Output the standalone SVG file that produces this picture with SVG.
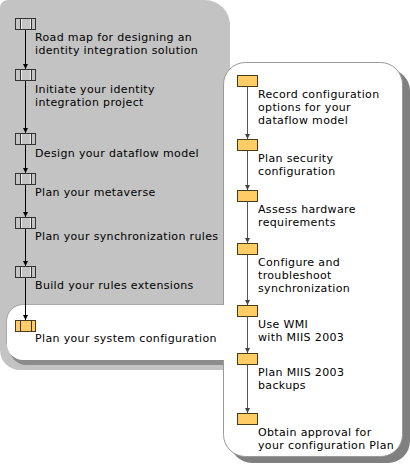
<svg xmlns="http://www.w3.org/2000/svg" width="410" height="465" viewBox="0 0 410 465">
<style>
text{font-family:"DejaVu Sans","Liberation Sans",sans-serif;font-size:11px;letter-spacing:0.35px;fill:#000}
.gn{fill:#c4c4c4;stroke:#333;stroke-width:1}
.yn{fill:#ffcc66;stroke:#4a3a1a;stroke-width:1}
.il{stroke:#333;stroke-width:1}
.hl{stroke:#eee;stroke-width:1}
.cl{stroke:#000;stroke-width:1;fill:none}
.cr{stroke:#555;stroke-width:1;fill:none}
</style>
<defs>
<marker id="ah" markerUnits="userSpaceOnUse" markerWidth="6" markerHeight="6" refX="5" refY="3" orient="auto"><path d="M0,0.5 L5,3 L0,5.5 Z" fill="#000"/></marker>
<marker id="ahr" markerUnits="userSpaceOnUse" markerWidth="6" markerHeight="6" refX="5" refY="3" orient="auto"><path d="M0,0.5 L5,3 L0,5.5 Z" fill="#444"/></marker>
</defs>
<g id="background">
<path d="M8,0 H205 A25,25 0 0 1 230,25 V362 A8,8 0 0 1 222,370 H20 A20,20 0 0 1 0,350 V8 A8,8 0 0 1 8,0 Z" fill="#c3c3c3"/>
<rect x="230" y="69" width="180" height="394" rx="22" fill="#808080"/>
<rect x="223.5" y="62.5" width="179" height="394" rx="22" fill="#fff" stroke="#999"/>
<path d="M26,310 H223 V365 H26 A16,16 0 0 1 10,349 V326 A16,16 0 0 1 26,310 Z" fill="#8c8c8c"/>
<path d="M23,305 H225 V360 H23 A16,16 0 0 1 7,344 V321 A16,16 0 0 1 23,305 Z" fill="#fff"/>
<path d="M223,304.5 H23 A16.5,16.5 0 0 0 6.5,321 V344" fill="none" stroke="#a8a8a8"/>
</g>
<g id="connectors">
<path class="cl" d="M25.5,30 V69" marker-end="url(#ah)"/>
<path class="cl" d="M25.5,81 V133" marker-end="url(#ah)"/>
<path class="cl" d="M25.5,145 V173" marker-end="url(#ah)"/>
<path class="cl" d="M25.5,185 V217" marker-end="url(#ah)"/>
<path class="cl" d="M25.5,229 V266" marker-end="url(#ah)"/>
<path class="cl" d="M25.5,278 V320" marker-end="url(#ah)"/>
<path class="cr" d="M247.5,87 V139" marker-end="url(#ahr)"/>
<path class="cr" d="M247.5,151 V190" marker-end="url(#ahr)"/>
<path class="cr" d="M247.5,202 V243" marker-end="url(#ahr)"/>
<path class="cr" d="M247.5,255 V305" marker-end="url(#ahr)"/>
<path class="cr" d="M247.5,317 V353" marker-end="url(#ahr)"/>
<path class="cr" d="M247.5,365 V413" marker-end="url(#ahr)"/>
</g>
<g id="n1"><rect class="gn" x="15.5" y="18.5" width="20" height="11"/><path class="il" d="M20.5,19 V29 M31.5,19 V29"/><path class="hl" d="M21.5,19 V29 M30.5,19 V29"/>
<text x="35" y="41">Road map for designing an</text><text x="35" y="54">identity integration solution</text></g>
<g id="n2"><rect class="gn" x="15.5" y="69.5" width="20" height="11"/><path class="il" d="M20.5,70 V80 M31.5,70 V80"/><path class="hl" d="M21.5,70 V80 M30.5,70 V80"/>
<text x="35" y="93">Initiate your identity</text><text x="35" y="106">integration project</text></g>
<g id="n3"><rect class="gn" x="15.5" y="133.5" width="20" height="11"/><path class="il" d="M20.5,134 V144 M31.5,134 V144"/><path class="hl" d="M21.5,134 V144 M30.5,134 V144"/>
<text x="35" y="157">Design your dataflow model</text></g>
<g id="n4"><rect class="gn" x="15.5" y="173.5" width="20" height="11"/><path class="il" d="M20.5,174 V184 M31.5,174 V184"/><path class="hl" d="M21.5,174 V184 M30.5,174 V184"/>
<text x="35" y="196">Plan your metaverse</text></g>
<g id="n5"><rect class="gn" x="15.5" y="217.5" width="20" height="11"/><path class="il" d="M20.5,218 V228 M31.5,218 V228"/><path class="hl" d="M21.5,218 V228 M30.5,218 V228"/>
<text x="35" y="240">Plan your synchronization rules</text></g>
<g id="n6"><rect class="gn" x="15.5" y="266.5" width="20" height="11"/><path class="il" d="M20.5,267 V277 M31.5,267 V277"/><path class="hl" d="M21.5,267 V277 M30.5,267 V277"/>
<text x="35" y="289">Build your rules extensions</text></g>
<g id="n7"><rect class="yn" x="15.5" y="320.5" width="20" height="11"/><path class="il" d="M20.5,321 V331 M31.5,321 V331"/>
<text x="35" y="342">Plan your system configuration</text></g>
<g id="r1"><rect class="yn" x="237.5" y="75.5" width="20" height="11"/>
<text x="258" y="98">Record configuration</text><text x="258" y="111">options for your</text><text x="258" y="124">dataflow model</text></g>
<g id="r2"><rect class="yn" x="237.5" y="139.5" width="20" height="11"/>
<text x="258" y="162">Plan security</text><text x="258" y="175">configuration</text></g>
<g id="r3"><rect class="yn" x="237.5" y="190.5" width="20" height="11"/>
<text x="258" y="213">Assess hardware</text><text x="258" y="226">requirements</text></g>
<g id="r4"><rect class="yn" x="237.5" y="243.5" width="20" height="11"/>
<text x="258" y="266">Configure and</text><text x="258" y="279">troubleshoot</text><text x="258" y="292">synchronization</text></g>
<g id="r5"><rect class="yn" x="237.5" y="305.5" width="20" height="11"/>
<text x="258" y="328">Use WMI</text><text x="258" y="341">with MIIS 2003</text></g>
<g id="r6"><rect class="yn" x="237.5" y="353.5" width="20" height="11"/>
<text x="258" y="376">Plan MIIS 2003</text><text x="258" y="389">backups</text></g>
<g id="r7"><rect class="yn" x="237.5" y="413.5" width="20" height="11"/>
<text x="258" y="436">Obtain approval for</text><text x="258" y="449">your configuration Plan</text></g>
</svg>
